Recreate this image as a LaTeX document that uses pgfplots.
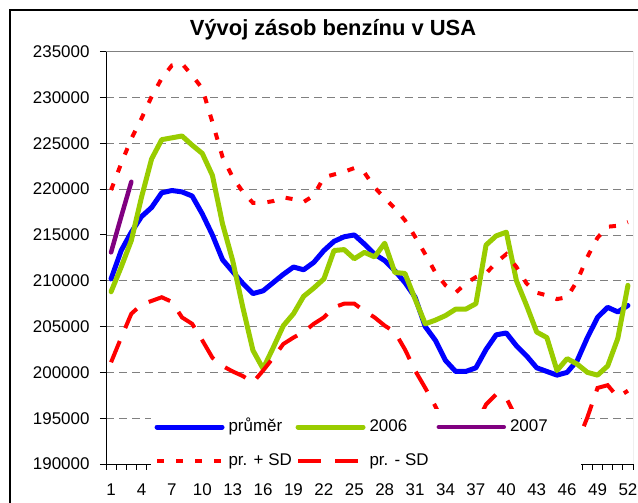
\documentclass[border=0pt]{standalone}
\usepackage{fontspec}
\setmainfont{Liberation Sans}
\usepackage{pgfplots}
\usepackage{pgfplotstable}
\pgfplotsset{compat=1.18}

\definecolor{avgblue}{RGB}{0,0,255}
\definecolor{lime06}{RGB}{153,204,0}
\definecolor{purp07}{RGB}{128,0,128}
\definecolor{sdred}{RGB}{255,0,0}
\definecolor{gridgray}{RGB}{128,128,128}

% week, average, 2006, average + SD, average - SD
\pgfplotstableread{
wk avg y2006 plus minus
1 210200 208800 219900 201100
2 213300 211500 222800 203800
3 215300 214400 225500 206400
4 217000 219100 227700 207400
5 218000 223300 230100 207800
6 219600 225400 232100 208200
7 219850 225600 233500 207700
8 219700 225800 233700 206000
9 219250 224800 232400 205300
10 217300 223900 231000 203500
11 215000 221500 227300 201600
12 212300 216200 223500 200700
13 211000 212200 221300 200100
14 209700 207100 219700 199600
15 208600 202400 218500 198900
16 208900 200400 218500 200200
17 209800 202700 218700 201600
18 210700 205100 219100 203100
19 211500 206400 218900 203800
20 211200 208300 218600 204400
21 212000 209200 219300 205300
22 213300 210200 221300 206000
23 214300 213300 221600 207100
24 214800 213400 221900 207500
25 215000 212400 222300 207500
26 214000 213100 221800 206700
27 212900 212600 220200 206000
28 212200 214100 219000 205100
29 211100 210900 217900 204400
30 209800 210800 216600 202500
31 208200 208000 214800 200200
32 205000 205300 212900 198300
33 203500 205700 210900 196300
34 201300 206200 209500 194000
35 200100 206900 208700 193300
36 200100 206900 209700 193600
37 200500 207500 210400 194300
38 202500 213900 210800 196500
39 204100 214900 212000 197600
40 204300 215300 212900 197200
41 202900 210000 211500 195000
42 201800 207300 209700 194000
43 200500 204400 208700 193000
44 200100 203800 208400 192500
45 199700 200200 208000 192000
46 200000 201500 208200 191500
47 201300 200900 210000 192300
48 203800 200000 212600 195100
49 206000 199700 214700 198300
50 207100 200700 215900 198600
51 206600 203700 216000 197300
52 207300 209500 216400 198000
}\zasoby

\pgfplotstableread{
wk y2007
1 213100
2 217000
3 220800
}\rok

\begin{document}
\begin{tikzpicture}
\useasboundingbox (0,0) rectangle (638bp,503bp);
\draw[black, line width=1.2bp] (10bp,0) -- (10bp,493bp) -- (638bp,493bp);
\node[anchor=base, font=\fontsize{22}{26}\selectfont\bfseries] at (333bp,467bp) {Vývoj zásob benzínu v USA};
\begin{axis}[
    at={(106bp,39bp)}, anchor=south west,
    scale only axis,
    width=527bp, height=412.3bp,
    xmin=0.5, xmax=52.5,
    ymin=190000, ymax=235000,
    axis x line*=bottom, axis y line*=left,
    axis line style={-, black, line width=1bp},
    xtick={0.5,1.5,...,52.5}, xticklabels={},
    extra x ticks={1,4,...,52},
    extra x tick style={major tick length=0pt},
    ytick={190000,195000,...,235000},
    scaled y ticks=false,
    yticklabel style={xshift=-7bp, /pgf/number format/.cd, fixed, 1000 sep={}},
    xticklabel style={yshift=-16bp},
    /pgf/number format/assume math mode=true,
    tick align=outside, major tick length=6bp,
    tick style={black, line width=1bp},
    ymajorgrids,
    grid style={gridgray, line width=0.8bp, dash pattern=on 8bp off 5bp},
    tick label style={font=\fontsize{17}{20}\selectfont},
    legend columns=3,
    legend image code/.code={\draw[#1] (0bp,0bp) -- (65bp,0bp);},
    legend style={
        at={(rel axis cs:0.493,0.0485)}, anchor=center,
        draw=none, fill=white,
        font=\fontsize{17}{20}\selectfont,
        inner xsep=4bp, inner ysep=10bp,
        nodes={inner sep=0pt, text height=13bp, text depth=4bp},
        /tikz/every odd column/.style={column sep=4bp},
        /tikz/every even column/.style={column sep=0bp},
        /tikz/row sep=17bp,
    },
]

\addplot[avgblue, line width=5bp, line cap=round, line join=round] table[x=wk, y=avg] {\zasoby};
\addlegendentry{\makebox[67bp][l]{průměr}}

\addplot[lime06, line width=5bp, line cap=round, line join=round] table[x=wk, y=y2006] {\zasoby};
\addlegendentry{\makebox[67bp][l]{2006}}

\addplot[purp07, line width=4.5bp, line cap=round, line join=round] table[x=wk, y=y2007] {\rok};
\addlegendentry{\makebox[67bp][l]{2007}}

\addplot[sdred, line width=4bp, dash pattern=on 7bp off 12bp] table[x=wk, y=plus] {\zasoby};
\addlegendentry{\makebox[67bp][l]{pr. + SD}}

\addplot[sdred, line width=4bp, dash pattern=on 23bp off 14bp] table[x=wk, y=minus] {\zasoby};
\addlegendentry{\makebox[67bp][l]{pr. - SD}}

% plot area border on top and right
\draw[gridgray, line width=1bp] (rel axis cs:0,1) -- (rel axis cs:1,1) -- (rel axis cs:1,0);
\end{axis}
\end{tikzpicture}
\end{document}
